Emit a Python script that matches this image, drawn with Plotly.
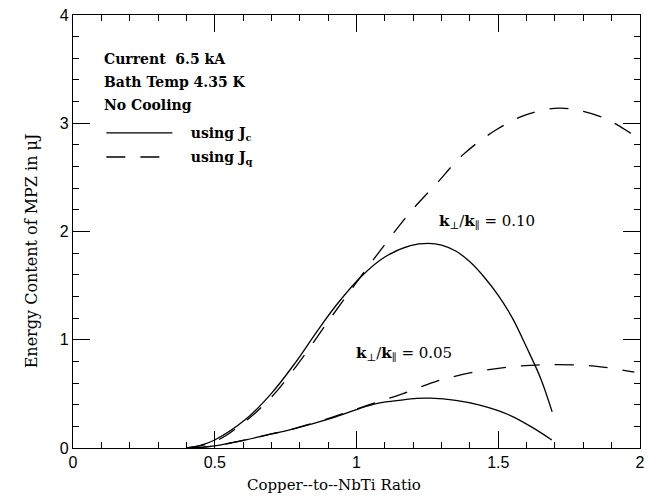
import plotly.graph_objects as go

# k_perp/k_par = 0.10
x_c10 = [0.40, 0.45, 0.50, 0.607, 0.70, 0.782, 0.864, 0.934, 1.015, 1.097, 1.19, 1.254, 1.30, 1.35, 1.40, 1.45, 1.50, 1.55, 1.60, 1.65, 1.69]
y_c10 = [0.00, 0.025, 0.074, 0.26, 0.505, 0.78, 1.09, 1.337, 1.58, 1.76, 1.87, 1.89, 1.875, 1.82, 1.72, 1.58, 1.41, 1.20, 0.93, 0.64, 0.335]
x_q10 = [0.40, 0.50, 0.60, 0.70, 0.80, 0.90, 1.00, 1.10, 1.19, 1.283, 1.376, 1.493, 1.60, 1.714, 1.80, 1.88, 1.96, 2.00]
y_q10 = [0.00, 0.06, 0.23, 0.47, 0.80, 1.17, 1.53, 1.88, 2.18, 2.445, 2.71, 2.94, 3.08, 3.14, 3.11, 3.04, 2.92, 2.85]
# k_perp/k_par = 0.05
x_c05 = [0.42, 0.50, 0.607, 0.70, 0.782, 0.91, 1.062, 1.143, 1.213, 1.26, 1.35, 1.435, 1.50, 1.551, 1.62, 1.689]
y_c05 = [0.00, 0.02, 0.074, 0.13, 0.18, 0.274, 0.406, 0.437, 0.459, 0.46, 0.44, 0.397, 0.345, 0.29, 0.19, 0.074]
x_q05 = [0.42, 0.50, 0.61, 0.70, 0.78, 0.91, 1.00, 1.08, 1.167, 1.289, 1.423, 1.551, 1.68, 1.84, 1.98]
y_q05 = [0.00, 0.02, 0.075, 0.13, 0.18, 0.28, 0.36, 0.43, 0.505, 0.622, 0.705, 0.751, 0.77, 0.757, 0.70]

labels = [("<b>k</b><sub>⊥</sub>/<b>k</b><sub>∥</sub> = 0.10", 1.46, 2.09),
          ("<b>k</b><sub>⊥</sub>/<b>k</b><sub>∥</sub> = 0.05", 1.167, 0.875)]
info_lines = ["Current  6.5 kA", "Bath Temp 4.35 K", "No Cooling"]
info_y = [0.898, 0.845, 0.792]

DASH = "19px,15px"
fig = go.Figure()
fig.add_trace(go.Scatter(x=x_c10, y=y_c10, mode="lines", name="\u00a0\u00a0\u00a0<b>using J<sub>c</sub></b>",
                         legendgroup="a", line=dict(color="black", width=1.3, shape="spline")))
fig.add_trace(go.Scatter(x=x_q10, y=y_q10, mode="lines", name="\u00a0\u00a0\u00a0<b>using J<sub>q</sub></b>",
                         legendgroup="b", line=dict(color="black", width=1.3, dash=DASH, shape="spline")))
fig.add_trace(go.Scatter(x=x_c05, y=y_c05, mode="lines", showlegend=False,
                         line=dict(color="black", width=1.3, shape="spline")))
fig.add_trace(go.Scatter(x=x_q05, y=y_q05, mode="lines", showlegend=False,
                         line=dict(color="black", width=1.3, dash=DASH, shape="spline")))

for txt, xx, yy in labels:
    fig.add_annotation(x=xx, y=yy, text=txt, showarrow=False,
                       font=dict(family="DejaVu Serif", size=15, color="black"))
for txt, yy in zip(info_lines, info_y):
    fig.add_annotation(x=0.052, y=yy, xref="paper", yref="paper", xanchor="left", yanchor="middle",
                       text="<b>" + txt + "</b>", showarrow=False,
                       font=dict(family="DejaVu Serif", size=14, color="black"))

fig.add_annotation(x=0.46, y=-0.085, xref="paper", yref="paper", xanchor="center", yanchor="middle",
                   text="Copper--to--NbTi Ratio", showarrow=False,
                   font=dict(family="DejaVu Serif", size=15, color="black"))
fig.add_annotation(x=-0.0717, y=0.455, xref="paper", yref="paper", xanchor="center", yanchor="middle",
                   text="Energy Content of MPZ in μJ", textangle=-90, showarrow=False,
                   font=dict(family="DejaVu Serif", size=16, color="black"))

axis_common = dict(showline=True, linecolor="black", linewidth=1.2, mirror="ticks",
                   ticks="inside", tickcolor="black", showgrid=False, zeroline=False,
                   ticklabeloverflow="allow",
                   tickfont=dict(family="Liberation Sans", size=16, color="black"))
fig.update_xaxes(range=[0, 2], dtick=0.5, ticklen=17, tickwidth=1.2,
                 minor=dict(dtick=0.1, ticks="inside", ticklen=6, tickcolor="black", showgrid=False),
                 **axis_common)
fig.update_yaxes(range=[0, 4], dtick=1, ticklen=17, tickwidth=1.2,
                 minor=dict(dtick=0.2, ticks="inside", ticklen=6, tickcolor="black", showgrid=False),
                 **axis_common)

fig.update_layout(
    width=647, height=498,
    margin=dict(l=73, r=2, t=15, b=50),
    plot_bgcolor="white", paper_bgcolor="white",
    legend=dict(x=0.05, y=0.764, xanchor="left", yanchor="top", bgcolor="rgba(0,0,0,0)",
                itemwidth=66, traceorder="grouped", tracegroupgap=3,
                font=dict(family="DejaVu Serif", size=14, color="black")),
)
fig.write_html("out.html")
